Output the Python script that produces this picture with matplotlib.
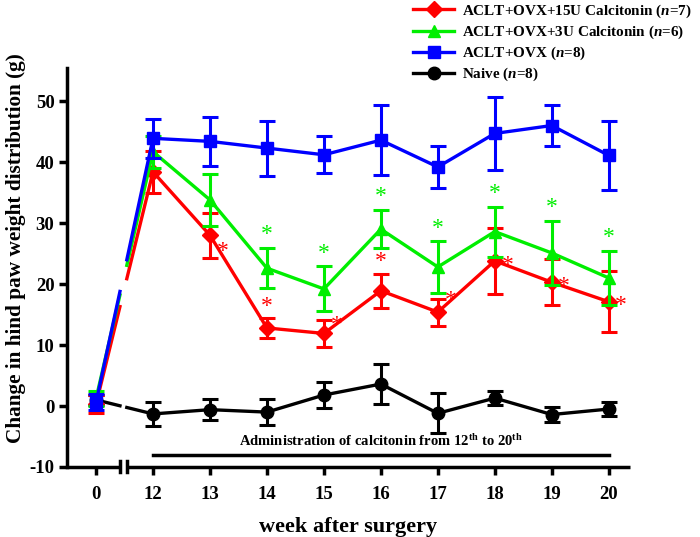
import numpy as np
import matplotlib
matplotlib.use('Agg')
import matplotlib.pyplot as plt
from matplotlib.lines import Line2D

plt.rcParams['font.family'] = ['Liberation Serif', 'DejaVu Serif']
plt.rcParams['font.weight'] = 'bold'
plt.rcParams['axes.labelweight'] = 'bold'
plt.rcParams['axes.unicode_minus'] = False
plt.rcParams['mathtext.fontset'] = 'custom'
plt.rcParams['mathtext.rm'] = 'Liberation Serif:bold'
plt.rcParams['mathtext.it'] = 'Liberation Serif:bold:italic'

weeks = [0, 12, 13, 14, 15, 16, 17, 18, 19, 20]
week_labels = ['0', '12', '13', '14', '15', '16', '17', '18', '19', '20']

red_mean = [0.3, 38.4, 28.0, 12.8, 11.9, 18.9, 15.4, 23.8, 20.3, 17.1]
red_err = [1.5, 3.5, 3.7, 1.6, 2.2, 2.8, 2.2, 5.4, 3.8, 5.0]
green_mean = [1.2, 41.7, 33.8, 22.6, 19.2, 29.0, 22.8, 28.6, 25.1, 21.0]
green_err = [1.2, 2.6, 4.2, 3.3, 3.7, 3.1, 4.2, 4.1, 5.2, 4.5]
blue_mean = [0.6, 43.9, 43.4, 42.3, 41.2, 43.6, 39.2, 44.7, 46.0, 41.1]
blue_err = [1.3, 3.2, 4.0, 4.5, 3.0, 5.7, 3.5, 6.0, 3.3, 5.6]
black_mean = [1.0, -1.3, -0.6, -1.0, 1.8, 3.6, -1.2, 1.3, -1.4, -0.5]
black_err = [0.8, 1.9, 1.7, 2.1, 2.1, 3.3, 3.3, 1.2, 1.3, 1.2]

labels = ['ACLT+OVX+15U Calcitonin ($\\mathit{n}$=7)',
          'ACLT+OVX+3U Calcitonin ($\\mathit{n}$=6)',
          'ACLT+OVX ($\\mathit{n}$=8)',
          'Naive ($\\mathit{n}$=8)']
colors = ['#ff0000', '#00ee00', '#0000ff', '#000000']
markers = ['D', '^', 's', 'o']
msizes = [8, 9, 8, 9]

# significance marks: week, placement
green_star = [14, 15, 16, 17, 18, 19, 20]
red_star_above = [14, 16]
red_star_right = [13, 15, 17, 18, 19, 20]

# week 0 sits one slot before week 12 (broken axis)
pos = np.array([11] + weeks[1:], dtype=float)

series = [(red_mean, red_err), (green_mean, green_err),
          (blue_mean, blue_err), (black_mean, black_err)]

fig = plt.figure(figsize=(7, 5.37), dpi=100)
ax = fig.add_axes([0.0957, 0.1304, 0.804, 0.7426])

draw_order = [3, 0, 1, 2]
for k, i in enumerate(draw_order):
    m, e = series[i]
    m = np.array(m)
    z = 3 + k
    ax.errorbar(pos, m, yerr=e, fmt=markers[i], color=colors[i], ms=msizes[i],
                elinewidth=2.2, capsize=6, capthick=2.2, zorder=z)
    ax.plot(pos[1:], m[1:], color=colors[i], lw=2.4, zorder=z)
    # broken segment from week 0 to week 12
    for a, b in [(0.0, 0.42), (0.54, 1.0)]:
        xs = pos[0] + np.array([a, b]) * (pos[1] - pos[0])
        ys = m[0] + np.array([a, b]) * (m[1] - m[0])
        ax.plot(xs, ys, color=colors[i], lw=2.4, zorder=z)

def wi(w):
    return weeks.index(w)

star_kw = dict(textcoords='offset points', fontsize=17, fontweight='normal', zorder=10)
for w in green_star:
    j = wi(w)
    ax.annotate('*', (pos[j], green_mean[j] + green_err[j]), xytext=(0, 2),
                ha='center', va='bottom', color='#00ee00', **star_kw)
for w in red_star_above:
    j = wi(w)
    ax.annotate('*', (pos[j], red_mean[j] + red_err[j]), xytext=(0, 1),
                ha='center', va='bottom', color='#ff0000', **star_kw)
for w in red_star_right:
    j = wi(w)
    dy = {13: -12, 15: 6, 17: 8}.get(w, -3)
    ax.annotate('*', (pos[j], red_mean[j]), xytext=(9, dy),
                ha='center', va='center', color='#ff0000', **star_kw)

# administration bar
ax.plot([12, 20], [-8, -8], color='black', lw=2.5)
ax.text(16, -7.0, 'Administration of calcitonin from 12$^{\\mathrm{th}}$ to 20$^{\\mathrm{th}}$',
        ha='center', va='bottom', fontsize=10.5)

ax.set_xlim(10.49, 20.37)
ax.set_ylim(-10, 55.4)
ax.set_yticks(range(-10, 51, 10))
ax.set_xticks(pos)
ax.set_xticklabels(week_labels)
ax.tick_params(width=2.5, length=6, labelsize=13.5, pad=8)
ax.tick_params(axis='y', pad=3)

for s in ['top', 'right', 'bottom']:
    ax.spines[s].set_visible(False)
ax.spines['left'].set_linewidth(2.5)

# broken x axis
kw = dict(color='black', lw=2.5, clip_on=False, solid_capstyle='butt')
ax.plot([10.49, 11.42], [-10, -10], **kw)
ax.plot([11.54, 20.37], [-10, -10], **kw)
for xb in [11.42, 11.54]:
    ax.plot([xb, xb], [-10.9, -9.1], color='black', lw=2.5, clip_on=False)

ax.set_xlabel('week after surgery', fontsize=16, labelpad=10)
ax.set_ylabel('Change in hind paw weight distribution (g)', fontsize=15.3)
ax.yaxis.set_label_coords(-0.072, 0.55)

handles = [Line2D([], [], color=colors[i], marker=markers[i], ms=msizes[i], lw=2.4)
           for i in range(4)]
fig.legend(handles, labels, loc='upper left', bbox_to_anchor=(0.575, 1.015),
           frameon=False, fontsize=10.9, handlelength=2.7, labelspacing=0.25,
           handletextpad=0.5, borderaxespad=0.3)

fig.savefig('out.png', dpi=100)
